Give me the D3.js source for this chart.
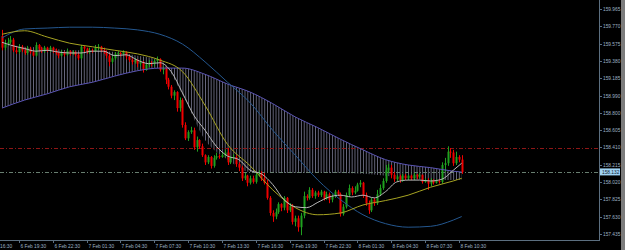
<!DOCTYPE html>
<html>
<head>
<meta charset="utf-8">
<script src="https://cdn.jsdelivr.net/npm/d3@7"></script>
<style>
html, body { margin: 0; padding: 0; background: #000; overflow: hidden; }
svg { display: block; }
text { font-family: "Liberation Sans", Arial, sans-serif; }
</style>
</head>
<body>
<svg id="chart" width="625" height="250"></svg>
<script>
// M15 bars, 6 Feb 18:00 -> 8 Feb 10:45
const firstTime = "6 Feb 2024 18:00";
const firstOpen = 159.66;
const closes = [
  159.53,159.57,159.59,159.62,159.50,159.48,159.54,159.50,159.47,159.52,
  159.48,159.44,159.56,159.52,159.49,159.53,159.50,159.53,159.50,159.47,
  159.44,159.48,159.45,159.49,159.46,159.48,159.45,159.41,159.54,159.52,
  159.48,159.50,159.49,159.53,159.54,159.50,159.48,159.44,159.37,159.41,
  159.46,159.47,159.46,159.48,159.43,159.39,159.37,159.39,159.35,159.37,
  159.28,159.34,159.36,159.35,159.38,159.40,159.28,159.30,159.17,159.09,
  158.99,159.03,158.85,158.94,158.66,158.51,158.58,158.60,158.41,158.49,
  158.42,158.32,158.24,158.30,158.20,158.29,158.31,158.30,158.32,158.35,
  158.24,158.29,158.30,158.22,158.18,158.06,158.09,158.01,158.06,158.02,
  158.10,158.12,158.06,158.01,157.84,157.67,157.63,157.68,157.77,157.73,
  157.84,157.70,157.75,157.57,157.61,157.51,157.64,157.86,157.84,157.93,
  157.86,157.90,157.87,157.91,157.83,157.88,157.82,157.86,157.91,157.88,
  157.66,157.74,157.87,157.95,157.90,157.92,157.99,158.01,157.87,157.78,
  157.70,157.82,157.78,157.88,157.95,158.03,158.15,158.18,158.10,158.05,
  158.08,158.04,158.09,158.06,158.09,158.06,158.10,158.08,158.10,158.02,
  158.04,158.00,158.04,158.01,158.03,158.02,158.21,158.23,158.36,158.35,
  158.23,158.30,158.27,158.132
];
const highs = [
  159.73,159.62,159.64,159.66,159.64,159.55,159.57,159.56,159.53,159.55,
  159.54,159.50,159.59,159.57,159.54,159.55,159.54,159.55,159.54,159.52,
  159.48,159.50,159.49,159.52,159.50,159.50,159.49,159.47,159.56,159.55,
  159.53,159.53,159.52,159.56,159.57,159.55,159.53,159.50,159.46,159.44,
  159.48,159.49,159.48,159.50,159.49,159.45,159.41,159.41,159.40,159.39,
  159.38,159.36,159.39,159.38,159.40,159.43,159.41,159.32,159.31,159.19,
  159.11,159.05,159.04,158.97,158.96,158.69,158.60,158.64,158.63,158.53,
  158.50,158.45,158.33,158.32,158.31,158.32,158.35,158.33,158.35,158.38,
  158.40,158.31,158.33,158.32,158.24,158.20,158.12,158.10,158.09,158.09,
  158.13,158.15,158.14,158.12,158.04,157.86,157.70,157.72,157.79,157.78,
  157.86,157.85,157.78,157.77,157.64,157.64,157.67,157.91,157.88,157.96,
  157.95,157.92,157.92,157.93,157.92,157.91,157.90,157.88,157.93,157.93,
  157.90,157.77,157.90,157.99,157.97,157.97,158.01,158.04,158.02,157.90,
  157.81,157.84,157.84,157.93,157.99,158.06,158.21,158.22,158.21,158.13,
  158.10,158.10,158.11,158.11,158.10,158.10,158.12,158.11,158.12,158.10,
  158.06,158.06,158.06,158.05,158.05,158.05,158.24,158.29,158.42,158.40,
  158.38,158.36,158.32,158.32
];
const lows = [
  159.50,159.50,159.55,159.57,159.48,159.46,159.46,159.48,159.45,159.45,
  159.46,159.43,159.43,159.49,159.47,159.47,159.48,159.48,159.47,159.45,
  159.41,159.43,159.43,159.44,159.44,159.45,159.43,159.39,159.40,159.48,
  159.46,159.46,159.47,159.48,159.50,159.48,159.46,159.41,159.32,159.35,
  159.39,159.44,159.43,159.44,159.40,159.37,159.34,159.35,159.31,159.32,
  159.25,159.27,159.31,159.32,159.32,159.36,159.26,159.23,159.12,159.06,
  158.96,158.94,158.81,158.81,158.63,158.49,158.48,158.56,158.38,158.36,
  158.39,158.30,158.21,158.22,158.17,158.18,158.27,158.28,158.29,158.30,
  158.21,158.22,158.27,158.19,158.14,158.03,158.04,157.97,157.99,158.00,
  158.00,158.08,158.03,157.99,157.82,157.64,157.57,157.60,157.66,157.69,
  157.70,157.67,157.68,157.54,157.52,157.46,157.42,157.61,157.81,157.82,
  157.84,157.83,157.85,157.85,157.81,157.82,157.78,157.79,157.84,157.86,
  157.63,157.64,157.72,157.85,157.87,157.88,157.91,157.96,157.84,157.75,
  157.66,157.68,157.75,157.76,157.86,157.93,158.01,158.12,158.06,158.02,
  158.03,158.01,158.02,158.04,158.04,158.04,158.04,158.05,158.06,158.00,
  158.01,157.93,157.97,157.99,158.00,158.00,158.00,158.13,158.20,158.29,
  158.20,158.21,158.24,158.11
];

// indicator lines, read every 4 / 8 bars
const fastIdx = [0,4,8,12,16,20,24,28,32,36,40,44,48,52,56,60,64,68,72,76,80,
  84,88,92,96,100,104,108,112,116,120,124,128,132,136,140,144,148,152,156,160,163];
const fastMA = [159.59,159.55,159.52,159.49,159.50,159.48,159.47,159.47,159.49,159.49,
  159.44,159.45,159.39,159.35,159.36,159.26,159.02,158.77,158.60,158.42,158.31,
  158.27,158.15,158.11,157.99,157.82,157.74,157.73,157.79,157.85,157.87,
  157.85,157.87,157.84,157.91,158.02,158.04,158.04,158.03,158.05,158.15,158.23];

const slowIdx = [0,8,16,24,32,40,48,56,64,72,80,88,96,104,112,120,128,136,144,152,160,163];
const slowMA = [159.68,159.72,159.65,159.58,159.54,159.50,159.46,159.39,159.26,158.88,158.44,
  158.20,157.93,157.73,157.65,157.67,157.76,157.81,157.87,157.96,158.03,158.06];
const blueLine = [159.64,159.74,159.75,159.76,159.76,159.75,159.73,159.68,159.57,159.37,159.14,
  158.91,158.60,158.32,158.04,157.82,157.65,157.55,157.51,157.52,157.59,157.63];
const cloudA = [158.85,158.94,159.01,159.09,159.14,159.21,159.27,159.30,159.30,159.23,159.12,
  159.03,158.90,158.75,158.63,158.50,158.38,158.27,158.21,158.18,158.14,158.13];
const cloudB = [159.56,159.54,159.53,159.50,159.50,159.48,159.44,159.39,159.00,158.49,158.27,
  158.13,158.12,158.12,158.12,158.12,158.11,158.09,158.06,158.04,158.04,158.04];

const levelPrice = 158.40;
const bidPrice = 158.132;

const priceLabels = ["159.965","159.770","159.575","159.380","159.185","158.990","158.800",
  "158.605","158.410","158.215","158.020","157.825","157.630","157.435"];
const timeLabels = ["6 Feb 16:30","6 Feb 19:30","6 Feb 22:30","7 Feb 01:30","7 Feb 04:30",
  "7 Feb 07:30","7 Feb 10:30","7 Feb 13:30","7 Feb 16:30","7 Feb 19:30","7 Feb 22:30",
  "8 Feb 01:30","8 Feb 04:30","8 Feb 07:30","8 Feb 10:30"];

const plotW = 599, plotH = 240;
const svg = d3.select("#chart");
const parse = d3.timeParse("%e %b %Y %H:%M");
const t0 = parse(firstTime);
const barTime = i => d3.timeMinute.offset(t0, i * 15);

const bars = closes.map((c, i) => ({
  t: barTime(i), o: i ? closes[i - 1] : firstOpen, h: highs[i], l: lows[i], c: c
}));

const x = d3.scaleTime()
  .domain([bars[0].t, bars[bars.length - 1].t])
  .range([2, 461.7]);
const y = d3.scaleLinear().domain([157.366, 160.066]).range([plotH, 0]);

svg.append("rect").attr("width", 625).attr("height", 250).attr("fill", "#000");

// hatch pattern for the cloud
const defs = svg.append("defs");
const pat = defs.append("pattern")
  .attr("id", "hatch")
  .attr("patternUnits", "userSpaceOnUse")
  .attr("x", 2).attr("y", 0)
  .attr("width", 2.82).attr("height", 20);
pat.append("rect").attr("x", 0).attr("y", 0).attr("width", 0.7).attr("height", 20)
  .attr("fill", "#8a8aa6");

defs.append("clipPath").attr("id", "plotClip")
  .append("rect").attr("width", plotW).attr("height", plotH);

const g = svg.append("g").attr("clip-path", "url(#plotClip)");

const cloud = slowIdx.map((b, k) => ({ t: barTime(b), a: cloudA[k], b: cloudB[k] }));
g.append("path")
  .datum(cloud)
  .attr("fill", "url(#hatch)")
  .attr("d", d3.area().curve(d3.curveMonotoneX)
    .x(d => x(d.t)).y0(d => y(d.a)).y1(d => y(d.b)));

// horizontal levels
g.append("line")
  .attr("x1", 0).attr("x2", plotW)
  .attr("y1", Math.round(y(levelPrice)) + 0.5).attr("y2", Math.round(y(levelPrice)) + 0.5)
  .attr("stroke", "#8e1616").attr("stroke-dasharray", "4,2,1,2");
g.append("line")
  .attr("x1", 0).attr("x2", plotW)
  .attr("y1", Math.round(y(bidPrice)) + 0.5).attr("y2", Math.round(y(bidPrice)) + 0.5)
  .attr("stroke", "#687e70").attr("stroke-dasharray", "4,2,1,2");

// candles
const cg = g.append("g");
bars.forEach(d => {
  const cx = Math.round(x(d.t));
  const up = d.c >= d.o;
  const col = up ? "#1fa01f" : "#f00000";
  cg.append("line")
    .attr("x1", cx + 0.5).attr("x2", cx + 0.5)
    .attr("y1", y(d.h)).attr("y2", y(d.l))
    .attr("stroke", col).attr("stroke-width", 1);
  const top = y(Math.max(d.o, d.c)), bot = y(Math.min(d.o, d.c));
  cg.append("rect")
    .attr("x", cx - 0.5).attr("width", 2)
    .attr("y", top).attr("height", Math.max(1, bot - top))
    .attr("fill", col);
});

// indicator lines
const lineGen = d3.line().curve(d3.curveMonotoneX).x(d => x(d.t)).y(d => y(d.v));
function drawLine(idx, vals, color) {
  g.append("path")
    .datum(idx.map((b, k) => ({ t: barTime(b), v: vals[k] })))
    .attr("fill", "none").attr("stroke", color).attr("stroke-width", 1)
    .attr("d", lineGen);
}
drawLine(slowIdx, cloudA, "#5b55b5");
drawLine(slowIdx, blueLine, "#24578f");
drawLine(slowIdx, slowMA, "#a6a322");
drawLine(fastIdx, fastMA, "#b9b9b9");

// right price axis
const axisCol = "#5c6f80", textCol = "#9fb2c4";
svg.append("line").attr("x1", plotW + 0.5).attr("x2", plotW + 0.5)
  .attr("y1", 0).attr("y2", plotH + 1).attr("stroke", axisCol);
priceLabels.forEach(s => {
  const py = Math.round(y(+s)) + 0.5;
  svg.append("line").attr("x1", plotW).attr("x2", plotW + 3)
    .attr("y1", py).attr("y2", py).attr("stroke", axisCol);
  svg.append("text").attr("x", plotW + 4).attr("y", py + 1.6)
    .attr("font-size", 4.8).attr("fill", textCol).text(s);
});
const by = y(bidPrice);
svg.append("rect").attr("x", plotW + 1).attr("y", by - 3.5).attr("width", 20).attr("height", 7)
  .attr("fill", "#9fd2f2");
svg.append("text").attr("x", plotW + 3).attr("y", by + 1.7)
  .attr("font-size", 4.8).attr("fill", "#0e2030").text(bidPrice.toFixed(3));

// bottom time axis (first label is cut by the left edge, as on the terminal)
svg.append("line").attr("x1", 0).attr("x2", plotW + 1)
  .attr("y1", plotH + 0.5).attr("y2", plotH + 0.5).attr("stroke", axisCol);
timeLabels.forEach(s => {
  const tx = Math.round(x(parse(s.replace(" Feb ", " Feb 2024 ")))) + 0.5;
  svg.append("line").attr("x1", tx).attr("x2", tx)
    .attr("y1", plotH).attr("y2", plotH + 3).attr("stroke", axisCol);
  svg.append("text").attr("x", tx + 1).attr("y", plotH + 7.5)
    .attr("font-size", 4.8).attr("fill", textCol).text(s);
});

// grey strip on the right edge
svg.append("rect").attr("x", 621).attr("y", 0).attr("width", 4).attr("height", 250)
  .attr("fill", "#7c7c7c");
</script>
</body>
</html>
